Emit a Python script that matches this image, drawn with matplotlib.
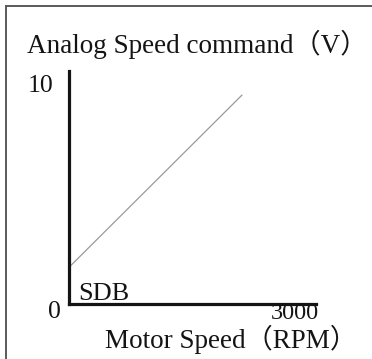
import matplotlib
matplotlib.use("Agg")
import matplotlib.pyplot as plt
from matplotlib.lines import Line2D

# speed command curve (RPM -> V)
speed = [0, 2100]
command = [1.66, 9.45]

x_ticks = [0, 3000]
y_ticks = [0, 10]

W, H = 372, 359
fig = plt.figure(figsize=(W / 100, H / 100), dpi=100)
fig.patch.set_facecolor("white")

serif = ["Liberation Serif", "Noto Sans CJK SC"]
ink = "#141414"


def px(x, y):
    return x / W, 1 - y / H


# frame around the drawing (top and left only)
fig.add_artist(Line2D([6 / W, 1], [1 - 6 / H, 1 - 6 / H], color="#5a5a5a",
                      lw=1.4, transform=fig.transFigure))
fig.add_artist(Line2D([6 / W, 6 / W], [0, 1 - 6 / H], color="#5a5a5a",
                      lw=1.4, transform=fig.transFigure))

left, right, top, bottom = 69, 316, 71, 304
y_top = (bottom - top) / (bottom - 83) * 10
ax = fig.add_axes([left / W, 1 - bottom / H, (right - left) / W, (bottom - top) / H])
ax.set_xlim(0, 3000)
ax.set_ylim(0, y_top)
ax.set_facecolor("none")

for side in ("top", "right"):
    ax.spines[side].set_visible(False)
for side in ("left", "bottom"):
    ax.spines[side].set_linewidth(2.3)
    ax.spines[side].set_color(ink)
    ax.spines[side].set_capstyle("projecting")
ax.set_xticks([])
ax.set_yticks([])

ax.plot(speed, command, color="#9a9a9a", lw=0.9)

# axis values
num = dict(fontsize=18.5, family=serif, color=ink, ha="left", va="baseline",
           textcoords="offset pixels")
ax.annotate(str(y_ticks[0]), xy=(0, 0), xytext=(-21, -14), **num)
ax.annotate(str(y_ticks[1]), xy=(0, y_ticks[1]), xytext=(-41, -9), **num)
num["fontsize"] = 17.5
ax.annotate(str(x_ticks[1]), xy=(x_ticks[1], 0), xytext=(-45, -15), **num)

ax.annotate("SDB", xy=(0, 0), xytext=(9, 4), textcoords="offset pixels",
            fontsize=19, family=serif, color=ink, ha="left", va="baseline")

fig.text(*px(27, 53), "Analog Speed command（V）", fontsize=19.5, family=serif,
         color=ink, ha="left", va="baseline")
fig.text(*px(105, 348), "Motor Speed（RPM）", fontsize=19.5, family=serif,
         color=ink, ha="left", va="baseline")

fig.savefig("out.png", dpi=100)
